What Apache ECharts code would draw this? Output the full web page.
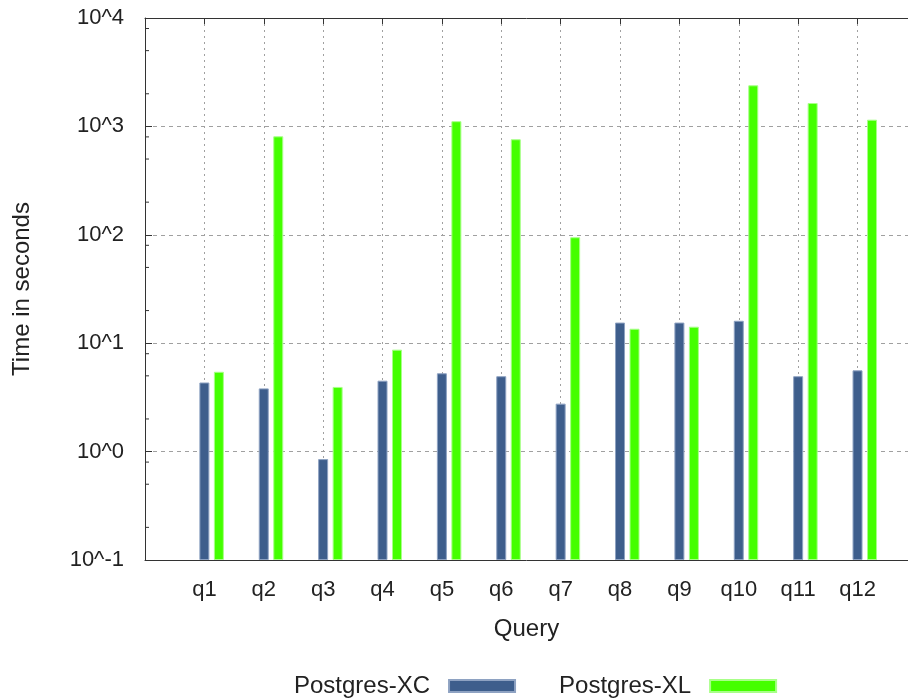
<!DOCTYPE html>
<html><head><meta charset="utf-8">
<script src="https://cdn.jsdelivr.net/npm/echarts@6/dist/echarts.min.js"></script>
<style>html,body{margin:0;padding:0;background:#fff}#c{width:908px;height:700px}</style>
</head><body><div id="c"></div>
<script>
// ---- data ----
const categories = ['q1','q2','q3','q4','q5','q6','q7','q8','q9','q10','q11','q12'];
const xcTimes = [4.34, 3.83, 0.853, 4.51, 5.28, 4.96, 2.77, 15.5, 15.5, 16.1, 4.96, 5.62];
const xlTimes = [5.45, 810, 3.95, 8.72, 1117, 761, 94.9, 13.6, 14.2, 2394, 1643, 1153];
const yTickLabels = ['10^-1', '10^0', '10^1', '10^2', '10^3', '10^4'];
const seriesNames = ['Postgres-XC', 'Postgres-XL'];
const minorMultipliers = [2, 5, 8];
const decades = [-1, 0, 1, 2, 3];

// ---- build ----
const FONT = 'Liberation Sans';
const X_MIN = -1, X_MAX = 11.85;
const minorTickValues = [];
decades.forEach(e => minorMultipliers.forEach(m => minorTickValues.push([X_MIN, m * Math.pow(10, e)])));

const chart = echarts.init(document.getElementById('c'), null, {renderer: 'canvas'});
const txt = {fontFamily: FONT, fontSize: 22, color: '#222'};
const nameTxt = {fontFamily: FONT, fontSize: 24, color: '#222'};
const axisLineStyle = {color: '#333', width: 1};

chart.setOption({
  animation: false,
  backgroundColor: '#fff',
  grid: {left: 145, right: 0, top: 18, bottom: 140, containLabel: false},
  legend: {
    data: seriesNames,
    left: 294, top: 674, padding: 0,
    align: 'right',
    itemWidth: 66, itemHeight: 12, itemGap: 43,
    icon: 'rect',
    textStyle: {fontFamily: FONT, fontSize: 24, color: '#222', padding: [0, 14, 0, 0]}
  },
  xAxis: [{
    type: 'value', min: X_MIN, max: X_MAX, interval: 1,
    position: 'bottom',
    name: 'Query', nameLocation: 'middle', nameGap: 57,
    nameTextStyle: nameTxt,
    axisLine: {show: true, onZero: false, lineStyle: axisLineStyle},
    axisTick: {show: true, inside: true, length: 5, lineStyle: axisLineStyle},
    axisLabel: {
      ...txt, margin: 19, showMaxLabel: false, showMinLabel: false,
      formatter: v => (Number.isInteger(v) && v >= 0 && v < categories.length) ? categories[v] : ''
    },
    splitLine: {show: true, lineStyle: {color: '#a0a0a0', type: [2, 4], width: 1}}
  }, {
    type: 'value', min: X_MIN, max: X_MAX, interval: 1,
    position: 'top',
    axisLine: {show: true, onZero: false, lineStyle: axisLineStyle},
    axisTick: {show: true, inside: true, length: 6, lineStyle: axisLineStyle},
    axisLabel: {show: false},
    splitLine: {show: false}
  }],
  yAxis: {
    type: 'log', logBase: 10, min: 0.1, max: 10000, startValue: 0.1,
    position: 'left',
    name: 'Time in seconds', nameLocation: 'middle', nameGap: 111,
    nameTextStyle: nameTxt,
    axisLine: {show: true, onZero: false, lineStyle: axisLineStyle},
    axisTick: {show: true, inside: true, length: 7, lineStyle: axisLineStyle},
    axisLabel: {
      ...txt, margin: 21,
      formatter: v => yTickLabels[Math.round(Math.log10(v)) + 1] || ''
    },
    splitLine: {show: true, lineStyle: {color: '#a0a0a0', type: [4, 4], width: 1}}
  },
  series: [{
    name: '_pad', type: 'bar', xAxisIndex: 0, barWidth: 10, barGap: '45%',
    data: categories.map((c, i) => [i, null])
  }, {
    name: seriesNames[0], type: 'bar', xAxisIndex: 0, barWidth: 10, barGap: '45%',
    itemStyle: {color: '#3e5e8c', borderColor: '#8ea2c2', borderWidth: 1},
    data: categories.map((c, i) => [i, xcTimes[i]])
  }, {
    name: seriesNames[1], type: 'bar', xAxisIndex: 0, barWidth: 10, barGap: '45%',
    itemStyle: {color: '#44ff00', borderColor: '#a8ff88', borderWidth: 1},
    data: categories.map((c, i) => [i, xlTimes[i]])
  }, {
    name: '_minor', type: 'custom', xAxisIndex: 0, silent: true, z: 5,
    data: minorTickValues,
    renderItem: (params, api) => {
      const p = api.coord([api.value(0), api.value(1)]);
      return {type: 'line', shape: {x1: p[0], y1: p[1], x2: p[0] + 4, y2: p[1]},
              style: {stroke: '#333', lineWidth: 1}};
    }
  }]
});
</script>
</body></html>
